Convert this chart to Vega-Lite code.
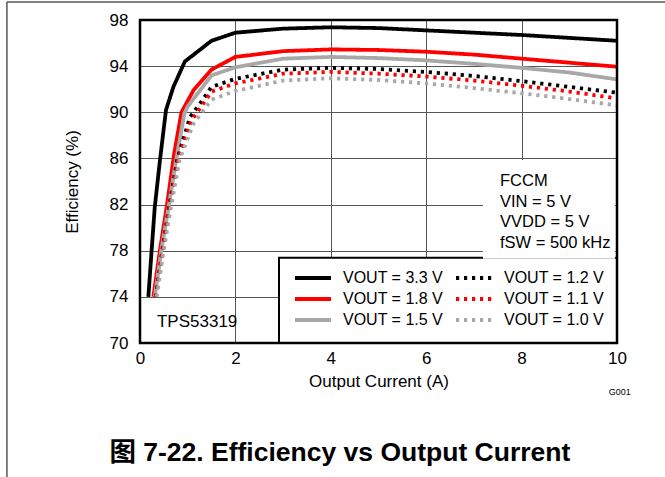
{
  "$schema": "https://vega.github.io/schema/vega-lite/v6.json",
  "width": 477,
  "height": 323,
  "autosize": {"type": "none"},
  "padding": {"left": 140, "top": 20, "right": 48, "bottom": 134},
  "background": "white",
  "config": {
    "view": {"stroke": null},
    "font": "Liberation Sans",
    "text": {"font": "Liberation Sans", "color": "black"},
    "legend": {
      "orient": "none",
      "legendX": 153,
      "legendY": 250,
      "columns": 2,
      "columnPadding": 4,
      "rowPadding": 5,
      "symbolType": "M-1,0H5",
      "symbolSize": 144,
      "symbolStrokeWidth": 4,
      "labelOffset": 34,
      "labelFontSize": 16,
      "labelFont": "Liberation Sans",
      "labelColor": "black",
      "title": null,
      "padding": 0,
      "symbolOpacity": 1
    }
  },
  "datasets": {
    "one": [{"k": 1}],
    "curves": [
      {"s": "VOUT = 3.3 V", "x": 0.175, "y": 74}, {"s": "VOUT = 3.3 V", "x": 0.245, "y": 78.1}, {"s": "VOUT = 3.3 V", "x": 0.31, "y": 81.8}, {"s": "VOUT = 3.3 V", "x": 0.42, "y": 85.9}, {"s": "VOUT = 3.3 V", "x": 0.545, "y": 90.2}, {"s": "VOUT = 3.3 V", "x": 0.7, "y": 92.2}, {"s": "VOUT = 3.3 V", "x": 0.94, "y": 94.4}, {"s": "VOUT = 3.3 V", "x": 1.5, "y": 96.2}, {"s": "VOUT = 3.3 V", "x": 2, "y": 96.9}, {"s": "VOUT = 3.3 V", "x": 3, "y": 97.25}, {"s": "VOUT = 3.3 V", "x": 4, "y": 97.37}, {"s": "VOUT = 3.3 V", "x": 5, "y": 97.3}, {"s": "VOUT = 3.3 V", "x": 6, "y": 97.1}, {"s": "VOUT = 3.3 V", "x": 7, "y": 96.9}, {"s": "VOUT = 3.3 V", "x": 8, "y": 96.7}, {"s": "VOUT = 3.3 V", "x": 9, "y": 96.45}, {"s": "VOUT = 3.3 V", "x": 10, "y": 96.2},
      {"s": "VOUT = 1.8 V", "x": 0.28, "y": 74}, {"s": "VOUT = 1.8 V", "x": 0.42, "y": 78.1}, {"s": "VOUT = 1.8 V", "x": 0.56, "y": 81.8}, {"s": "VOUT = 1.8 V", "x": 0.72, "y": 86.5}, {"s": "VOUT = 1.8 V", "x": 0.87, "y": 90.0}, {"s": "VOUT = 1.8 V", "x": 1.12, "y": 91.9}, {"s": "VOUT = 1.8 V", "x": 1.5, "y": 93.7}, {"s": "VOUT = 1.8 V", "x": 2, "y": 94.8}, {"s": "VOUT = 1.8 V", "x": 3, "y": 95.3}, {"s": "VOUT = 1.8 V", "x": 4, "y": 95.45}, {"s": "VOUT = 1.8 V", "x": 5, "y": 95.4}, {"s": "VOUT = 1.8 V", "x": 6, "y": 95.25}, {"s": "VOUT = 1.8 V", "x": 7, "y": 95.0}, {"s": "VOUT = 1.8 V", "x": 8, "y": 94.65}, {"s": "VOUT = 1.8 V", "x": 9, "y": 94.3}, {"s": "VOUT = 1.8 V", "x": 10, "y": 93.95},
      {"s": "VOUT = 1.5 V", "x": 0.31, "y": 74}, {"s": "VOUT = 1.5 V", "x": 0.45, "y": 78.1}, {"s": "VOUT = 1.5 V", "x": 0.6, "y": 81.8}, {"s": "VOUT = 1.5 V", "x": 0.76, "y": 85.9}, {"s": "VOUT = 1.5 V", "x": 0.93, "y": 89.9}, {"s": "VOUT = 1.5 V", "x": 1.0, "y": 90.5}, {"s": "VOUT = 1.5 V", "x": 1.5, "y": 93.2}, {"s": "VOUT = 1.5 V", "x": 2, "y": 93.9}, {"s": "VOUT = 1.5 V", "x": 3, "y": 94.65}, {"s": "VOUT = 1.5 V", "x": 4, "y": 94.8}, {"s": "VOUT = 1.5 V", "x": 5, "y": 94.7}, {"s": "VOUT = 1.5 V", "x": 6, "y": 94.5}, {"s": "VOUT = 1.5 V", "x": 7, "y": 94.2}, {"s": "VOUT = 1.5 V", "x": 8, "y": 93.85}, {"s": "VOUT = 1.5 V", "x": 9, "y": 93.45}, {"s": "VOUT = 1.5 V", "x": 10, "y": 92.85},
      {"s": "VOUT = 1.2 V", "x": 0.33, "y": 74}, {"s": "VOUT = 1.2 V", "x": 0.47, "y": 78.1}, {"s": "VOUT = 1.2 V", "x": 0.61, "y": 81.8}, {"s": "VOUT = 1.2 V", "x": 0.78, "y": 85.9}, {"s": "VOUT = 1.2 V", "x": 1.05, "y": 89.6}, {"s": "VOUT = 1.2 V", "x": 1.3, "y": 91.0}, {"s": "VOUT = 1.2 V", "x": 1.5, "y": 92.2}, {"s": "VOUT = 1.2 V", "x": 2, "y": 92.9}, {"s": "VOUT = 1.2 V", "x": 3, "y": 93.7}, {"s": "VOUT = 1.2 V", "x": 4, "y": 93.85}, {"s": "VOUT = 1.2 V", "x": 5, "y": 93.75}, {"s": "VOUT = 1.2 V", "x": 6, "y": 93.5}, {"s": "VOUT = 1.2 V", "x": 7, "y": 93.15}, {"s": "VOUT = 1.2 V", "x": 8, "y": 92.7}, {"s": "VOUT = 1.2 V", "x": 9, "y": 92.2}, {"s": "VOUT = 1.2 V", "x": 10, "y": 91.7},
      {"s": "VOUT = 1.1 V", "x": 0.33, "y": 74}, {"s": "VOUT = 1.1 V", "x": 0.48, "y": 78.1}, {"s": "VOUT = 1.1 V", "x": 0.62, "y": 81.8}, {"s": "VOUT = 1.1 V", "x": 0.8, "y": 85.9}, {"s": "VOUT = 1.1 V", "x": 1.08, "y": 89.3}, {"s": "VOUT = 1.1 V", "x": 1.3, "y": 90.6}, {"s": "VOUT = 1.1 V", "x": 1.5, "y": 91.8}, {"s": "VOUT = 1.1 V", "x": 2, "y": 92.5}, {"s": "VOUT = 1.1 V", "x": 3, "y": 93.35}, {"s": "VOUT = 1.1 V", "x": 4, "y": 93.5}, {"s": "VOUT = 1.1 V", "x": 5, "y": 93.35}, {"s": "VOUT = 1.1 V", "x": 6, "y": 93.1}, {"s": "VOUT = 1.1 V", "x": 7, "y": 92.75}, {"s": "VOUT = 1.1 V", "x": 8, "y": 92.3}, {"s": "VOUT = 1.1 V", "x": 9, "y": 91.8}, {"s": "VOUT = 1.1 V", "x": 10, "y": 91.2},
      {"s": "VOUT = 1.0 V", "x": 0.35, "y": 74}, {"s": "VOUT = 1.0 V", "x": 0.5, "y": 78.1}, {"s": "VOUT = 1.0 V", "x": 0.65, "y": 81.8}, {"s": "VOUT = 1.0 V", "x": 0.83, "y": 85.9}, {"s": "VOUT = 1.0 V", "x": 1.12, "y": 89.0}, {"s": "VOUT = 1.0 V", "x": 1.5, "y": 91.1}, {"s": "VOUT = 1.0 V", "x": 2, "y": 91.85}, {"s": "VOUT = 1.0 V", "x": 3, "y": 92.75}, {"s": "VOUT = 1.0 V", "x": 4, "y": 92.95}, {"s": "VOUT = 1.0 V", "x": 5, "y": 92.8}, {"s": "VOUT = 1.0 V", "x": 6, "y": 92.5}, {"s": "VOUT = 1.0 V", "x": 7, "y": 92.1}, {"s": "VOUT = 1.0 V", "x": 8, "y": 91.65}, {"s": "VOUT = 1.0 V", "x": 9, "y": 91.15}, {"s": "VOUT = 1.0 V", "x": 10, "y": 90.6}
    ]
  },
  "layer": [
    {
      "data": {"name": "one"},
      "mark": {"type": "rect", "fill": "white", "stroke": "black", "strokeWidth": 2},
      "encoding": {
        "x": {"datum": 2.914, "type": "quantitative"},
        "x2": {"datum": 10},
        "y": {"datum": 77.38, "type": "quantitative"},
        "y2": {"datum": 70}
      }
    },
    {
      "data": {"name": "curves"},
      "mark": {"type": "line", "strokeWidth": 3.8, "clip": true},
      "encoding": {
        "x": {
          "field": "x", "type": "quantitative",
          "scale": {"domain": [0, 10], "nice": false, "zero": false},
          "axis": {"title": "Output Current (A)", "values": [0, 2, 4, 6, 8, 10], "grid": true, "gridColor": "#555555", "gridWidth": 1, "ticks": false, "domain": false, "labelFlush": false, "labelFontSize": 17, "labelColor": "black", "labelPadding": 7, "labelFont": "Liberation Sans", "titleFont": "Liberation Sans", "titleFontSize": 17, "titleFontWeight": "normal", "titleColor": "black", "titlePadding": 7, "zindex": 0}
        },
        "y": {
          "field": "y", "type": "quantitative",
          "scale": {"domain": [70, 98], "nice": false, "zero": false},
          "axis": {"title": "Efficiency (%)", "values": [70, 74, 78, 82, 86, 90, 94, 98], "grid": true, "gridColor": "#555555", "gridWidth": 1, "ticks": false, "domain": false, "labelFontSize": 17, "labelColor": "black", "labelPadding": 12, "labelFont": "Liberation Sans", "titleFont": "Liberation Sans", "titleFontSize": 17, "titleFontWeight": "normal", "titleColor": "black", "titlePadding": 28, "zindex": 0}
        },
        "color": {
          "field": "s", "type": "nominal",
          "scale": {"domain": ["VOUT = 3.3 V", "VOUT = 1.8 V", "VOUT = 1.5 V", "VOUT = 1.2 V", "VOUT = 1.1 V", "VOUT = 1.0 V"], "range": ["#000000", "#ff0000", "#a8a8a8", "#000000", "#ff0000", "#a8a8a8"]}
        },
        "strokeDash": {
          "field": "s", "type": "nominal",
          "scale": {"domain": ["VOUT = 3.3 V", "VOUT = 1.8 V", "VOUT = 1.5 V", "VOUT = 1.2 V", "VOUT = 1.1 V", "VOUT = 1.0 V"], "range": [[1, 0], [1, 0], [1, 0], [3.2, 4.8], [3.2, 4.8], [3.2, 4.8]]}
        }
      }
    },
    {
      "data": {"name": "one"},
      "mark": {"type": "rect", "fill": "white", "stroke": null},
      "encoding": {
        "x": {"datum": 7.19, "type": "quantitative"},
        "x2": {"datum": 9.96},
        "y": {"datum": 85.87, "type": "quantitative"},
        "y2": {"datum": 77.3}
      }
    },
    {
      "data": {"name": "one"},
      "mark": {"type": "text", "align": "left", "baseline": "top", "fontSize": 16.5, "lineHeight": 20.5},
      "encoding": {
        "x": {"datum": 7.547, "type": "quantitative"},
        "y": {"datum": 84.7, "type": "quantitative"},
        "text": {"value": ["FCCM", "VIN = 5 V", "VVDD = 5 V", "fSW = 500 kHz"]}
      }
    },
    {
      "data": {"name": "one"},
      "mark": {"type": "text", "align": "left", "baseline": "middle", "fontSize": 17},
      "encoding": {
        "x": {"datum": 0.356, "type": "quantitative"},
        "y": {"datum": 71.86, "type": "quantitative"},
        "text": {"value": "TPS53319"}
      }
    },
    {
      "data": {"name": "one"},
      "mark": {"type": "rect", "fill": null, "stroke": "black", "strokeWidth": 2.5},
      "encoding": {
        "x": {"datum": 0, "type": "quantitative"},
        "x2": {"datum": 10},
        "y": {"datum": 98, "type": "quantitative"},
        "y2": {"datum": 70}
      }
    },
    {
      "data": {"name": "one"},
      "mark": {"type": "text", "align": "center", "baseline": "middle", "fontSize": 9},
      "encoding": {
        "x": {"datum": 10.06, "type": "quantitative"},
        "y": {"datum": 65.76, "type": "quantitative"},
        "text": {"value": "G001"}
      }
    },
    {
      "data": {"name": "one"},
      "mark": {"type": "text", "align": "center", "baseline": "middle", "fontSize": 26.5, "fontWeight": "bold", "font": "Liberation Sans, Noto Sans CJK SC"},
      "encoding": {
        "x": {"datum": 4.19, "type": "quantitative"},
        "y": {"datum": 60.48, "type": "quantitative"},
        "text": {"value": "图 7-22. Efficiency vs Output Current"}
      }
    },
    {
      "data": {"name": "one"},
      "mark": {"type": "rule", "color": "#555555", "strokeWidth": 1.5},
      "encoding": {
        "x": {"datum": -2.79, "type": "quantitative"},
        "y": {"datum": 58.3, "type": "quantitative"},
        "y2": {"datum": 99.56}
      }
    },
    {
      "data": {"name": "one"},
      "mark": {"type": "rule", "color": "#555555", "strokeWidth": 1.5},
      "encoding": {
        "x": {"datum": -2.79, "type": "quantitative"},
        "x2": {"datum": 11.1},
        "y": {"datum": 99.56, "type": "quantitative"}
      }
    }
  ]
}
